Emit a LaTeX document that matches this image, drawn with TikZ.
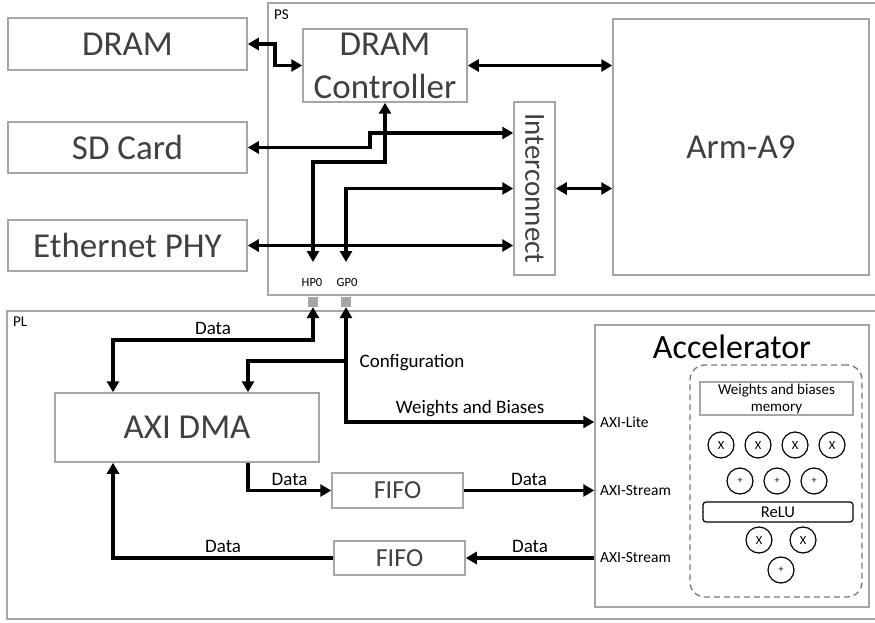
\documentclass[tikz,border=0pt]{standalone}
\usepackage{fontspec}
\setmainfont{Carlito}
\usepackage{tikz}
\usetikzlibrary{positioning,arrows.meta}
\definecolor{boxgray}{RGB}{166,166,166}
\definecolor{textgray}{RGB}{64,64,64}
\definecolor{dashgray}{RGB}{120,120,120}
\newcommand{\fsz}[2]{\fontsize{#1}{#2}\selectfont}

\begin{document}
\begin{tikzpicture}[x=1pt, y=-1pt,
  blk/.style={draw=boxgray, line width=1.5pt, text=textgray, font=\fsz{35}{43}, align=center},
  frame/.style={draw=boxgray, line width=1.5pt},
  bus/.style={line width=3.5pt, -{Triangle[length=11pt,width=12pt]}},
  dbus/.style={line width=3.5pt, {Triangle[length=11pt,width=12pt]}-{Triangle[length=11pt,width=12pt]}},
  lbl/.style={font=\fsz{19}{22}, inner sep=3.5pt},
  ifc/.style={font=\fsz{15.5}{18}, anchor=west, inner sep=0pt},
  port/.style={fill=boxgray, minimum size=10pt, inner sep=0pt},
  op/.style={circle, draw, line width=1.2pt, minimum size=26pt, inner sep=0pt, font=\fsz{12.5}{14}},
  sum/.style={op, font=\fsz{10}{12}}]
\useasboundingbox (0,0) rectangle (875,623);

\draw[frame] (877,3) -| (268,295) -- (877,295);
\node[anchor=west, font=\fsz{15}{18}, inner sep=0pt] (pslbl) at (274,15) {PS};

\node[blk, minimum width=239pt, minimum height=52pt] (dram) at (127.5,44) {DRAM};
\node[blk, minimum width=239pt, minimum height=51pt] (sd) at (127.5,147.5) {SD Card};
\node[blk, minimum width=239pt, minimum height=51pt] (eth) at (127.5,245.5) {Ethernet PHY};
\node[blk, minimum width=164pt, minimum height=73pt] (dctrl) at (385,65.5) {DRAM\\Controller};
\node[blk, minimum width=41pt, minimum height=173pt] (ic) at (534.5,188.5) {};
\node[rotate=-90, text=textgray, font=\fsz{29}{32}] (ictext) at (ic.center) {Interconnect};
\node[blk, minimum width=256pt, minimum height=256pt] (arm) at (741,147) {Arm-A9};

\node[port] (hp0port) at (313,302) {};
\node[port] (gp0port) at (346,302) {};
\node[font=\fsz{12.5}{14}, inner sep=0pt] (hp0) at (312,282) {HP0};
\node[font=\fsz{12.5}{14}, inner sep=0pt] (gp0) at (347,282) {GP0};
\coordinate (hp0in) at (313,262);
\coordinate (gp0in) at (346,262);

\draw[dbus] (dram.east) -- ++(27,0) |- (dctrl.west);
\draw[dbus] (dctrl.east) -- (dctrl.east -| arm.west);
\draw[dbus] (sd.east) -- ++(122,0) |- (ic.west |- 0,133);
\draw[dbus] (hp0in) |- (dctrl.south |- 0,162) -- (dctrl.south);
\draw[dbus] (gp0in) |- (ic.west);
\draw[dbus] (eth.east) -- (eth.east -| ic.west);
\draw[dbus] (ic.east) -- (ic.east -| arm.west);

\draw[frame] (877,311) -| (7,619) -- (877,619);
\node[anchor=west, font=\fsz{15}{18}, inner sep=0pt] (pllbl) at (13,322) {PL};

\node[blk, minimum width=264pt, minimum height=69pt] (dma) at (187,427.5) {AXI DMA};
\node[blk, minimum width=131pt, minimum height=35pt, font=\fsz{26}{30}] (fifoa) at (397.5,490.5) {FIFO};
\node[blk, minimum width=131pt, minimum height=34pt, font=\fsz{26}{30}] (fifob) at (399.5,558) {FIFO};

\node[frame, minimum width=274pt, minimum height=282pt] (acc) at (732,466) {};
\node[font=\fsz{34}{38}] (acctitle) at (732,347) {Accelerator};
\node[draw=dashgray, dashed, dash pattern=on 6pt off 4pt, line width=1.3pt, rounded corners=15pt, minimum width=172pt, minimum height=232pt] (core) at (776,481) {};
\node[frame, minimum width=153pt, minimum height=33pt, inner sep=1pt, font=\fsz{15}{17}, align=center] (wmem) at (776.5,398.5) {Weights and biases\\memory};
\node[op] (m1) at (721,445) {X};
\node[op] (m2) at (758,445) {X};
\node[op] (m3) at (795,445) {X};
\node[op] (m4) at (832,445) {X};
\node[sum] (s1) at (740,481) {+};
\node[sum] (s2) at (777,481) {+};
\node[sum] (s3) at (814,481) {+};
\node[draw, line width=1.2pt, rounded corners=3pt, minimum width=150pt, minimum height=20pt, inner sep=1pt, font=\fsz{16.5}{18}] (relu) at (778,512) {ReLU};
\node[op] (m5) at (759,540) {X};
\node[op] (m6) at (803,540) {X};
\node[sum] (s4) at (781,570) {+};

\node[ifc] (axilite) at (600,422) {AXI-Lite};
\node[ifc] (axisin) at (600,491) {AXI-Stream};
\node[ifc] (axisout) at (600,558) {AXI-Stream};

\draw[dbus] (hp0port.south) |- (113,340) node[lbl, pos=0.75, above] (dlbla) {Data} -- (dma.north -| 113,0);
\draw[dbus] (gp0port.south) |- (acc.west |- axilite.west) node[lbl, pos=0.75, above] (wblbl) {Weights and Biases};
\draw[bus] (gp0port.south |- 0,361) -| (dma.north -| 248,0);
\node[lbl, anchor=west] (cfglbl) at (356,363) {Configuration};
\draw[bus] (dma.south -| 248,0) |- (fifoa.west) node[lbl, pos=0.75, above] (dlblb) {Data};
\draw[bus] (fifoa.east) -- (fifoa.east -| acc.west) node[lbl, midway, above] (dlblc) {Data};
\draw[bus] (fifob.east -| acc.west) -- (fifob.east) node[lbl, midway, above] (dlbld) {Data};
\draw[bus] (fifob.west) -| (dma.south -| 113,0) node[lbl, pos=0.25, above] (dlble) {Data};
\end{tikzpicture}
\end{document}
